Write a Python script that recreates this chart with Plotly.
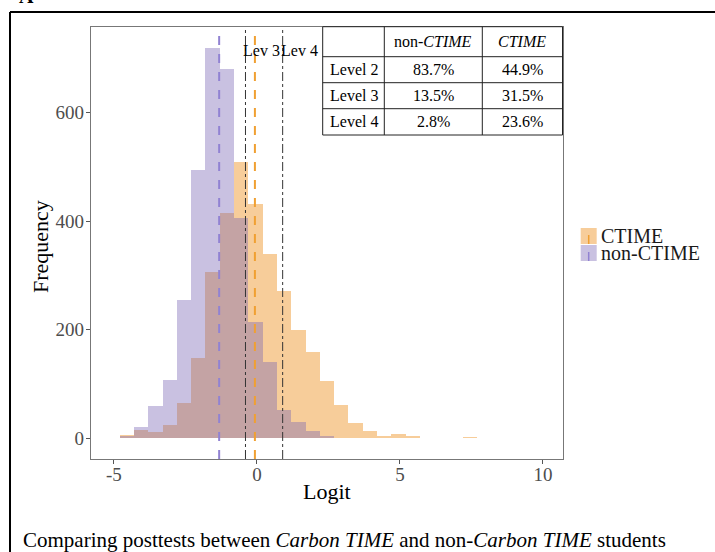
import plotly.graph_objects as go

# ---------------- data ----------------
bin_centers = [-4.55, -4.05, -3.55, -3.05, -2.55, -2.05, -1.55, -1.05, -0.55, -0.05,
               0.45, 0.95, 1.45, 1.95, 2.45, 2.95, 3.45, 3.95, 4.45, 4.95,
               5.45, 5.95, 6.45, 6.95, 7.45, 7.95, 8.45]
bin_width = 0.5
ctime_counts = [7, 15, 12, 24, 66, 149, 306, 415, 510, 431,
                340, 272, 200, 160, 105, 62, 28, 13, 5, 8,
                4, 1, 0, 0, 3, 0, 1]
non_ctime_counts = [4, 21, 59, 107, 255, 494, 720, 680, 406, 214,
                    140, 53, 30, 14, 4, 1, 0, 0, 0, 0,
                    0, 0, 0, 0, 0, 0, 0]
series_names = ["CTIME", "non-CTIME"]
ctime_mean = -0.07
non_ctime_mean = -1.32
level_names = ["Lev 3", "Lev 4"]
level_cuts = [-0.40, 0.90]

x_ticks = [-5, 0, 5, 10]
x_tick_labels = ["-5", "0", "5", "10"]
y_ticks = [0, 200, 400, 600]
y_tick_labels = ["0", "200", "400", "600"]

table_header = ["", "non-<i>CTIME</i>", "<i>CTIME</i>"]
table_rows = ["Level 2", "Level 3", "Level 4"]
table_non_ctime = ["83.7%", "13.5%", "2.8%"]
table_ctime = ["44.9%", "31.5%", "23.6%"]

caption = "Comparing posttests between <i>Carbon TIME</i> and non-<i>Carbon TIME</i> students"

# ---------------- style ----------------
FONT = "Liberation Serif"
W, H = 715, 552
L, R, T, B = 91, 152, 27, 93
PW, PH = W - L - R, H - T - B

def px(x):
    return (x - L) / PW

def py(y):
    return 1 - (y - T) / PH

orange_fill = "rgba(235,135,15,0.42)"
purple_fill = "rgba(120,100,180,0.40)"
orange_line = "rgb(240,160,50)"
purple_line = "rgb(145,130,210)"

fig = go.Figure()
fig.add_trace(go.Bar(x=bin_centers, y=ctime_counts, width=bin_width, name=series_names[0],
                     marker=dict(color=orange_fill, line=dict(width=0)), showlegend=False))
fig.add_trace(go.Bar(x=bin_centers, y=non_ctime_counts, width=bin_width, name=series_names[1],
                     marker=dict(color=purple_fill, line=dict(width=0)), showlegend=False))

shapes = []
shapes.append(dict(type="line", xref="x", yref="paper", x0=non_ctime_mean, x1=non_ctime_mean,
                   y0=0, y1=1, line=dict(color=purple_line, width=2, dash="dash")))
shapes.append(dict(type="line", xref="x", yref="paper", x0=ctime_mean, x1=ctime_mean,
                   y0=0, y1=1, line=dict(color=orange_line, width=2, dash="dash")))
for c in level_cuts:
    shapes.append(dict(type="line", xref="x", yref="paper", x0=c, x1=c, y0=0, y1=1,
                       line=dict(color="#333333", width=1, dash="dashdot")))

annotations = []
for name, c in zip(level_names, level_cuts):
    annotations.append(dict(x=c, y=715, xref="x", yref="y", text=name, showarrow=False,
                            xanchor="left", yanchor="middle", xshift=-4,
                            font=dict(family=FONT, size=16, color="black")))

# table
tx = [322.7, 384.3, 482.3, 562.5]
ty = [26.7, 56.7, 82.7, 108.7, 135.0]
shapes.append(dict(type="rect", xref="paper", yref="paper", x0=px(tx[0]), x1=px(tx[-1]),
                   y0=py(ty[-1]), y1=py(ty[0]), fillcolor="white", line=dict(width=0), layer="above"))
for xv in tx:
    shapes.append(dict(type="line", xref="paper", yref="paper", x0=px(xv), x1=px(xv),
                       y0=py(ty[0]), y1=py(ty[-1]), line=dict(color="#222222", width=1), layer="above"))
for yv in ty:
    shapes.append(dict(type="line", xref="paper", yref="paper", x0=px(tx[0]), x1=px(tx[-1]),
                       y0=py(yv), y1=py(yv), line=dict(color="#222222", width=1), layer="above"))
cell_cx = [(tx[i] + tx[i + 1]) / 2 for i in range(3)]
cell_cy = [(ty[i] + ty[i + 1]) / 2 for i in range(4)]
tfont = dict(family=FONT, size=16, color="black")
for j, h in enumerate(table_header):
    if h:
        annotations.append(dict(x=px(cell_cx[j]), y=py(cell_cy[0]), xref="paper", yref="paper",
                                text=h, showarrow=False, xanchor="center", yanchor="middle", font=tfont))
for i, (rn, a, b) in enumerate(zip(table_rows, table_non_ctime, table_ctime)):
    for j, t in enumerate([rn, a, b]):
        annotations.append(dict(x=px(cell_cx[j]), y=py(cell_cy[i + 1]), xref="paper", yref="paper",
                                text=t, showarrow=False, xanchor="center", yanchor="middle", font=tfont))

# custom legend
leg_fills = [orange_fill, purple_fill]
leg_lines = [orange_line, purple_line]
leg_y = [(228, 244), (245, 261)]
for name, f, lc, (y0, y1) in zip(series_names, leg_fills, leg_lines, leg_y):
    shapes.append(dict(type="rect", xref="paper", yref="paper", x0=px(580.7), x1=px(596.7),
                       y0=py(y1), y1=py(y0), fillcolor=f, line=dict(width=0)))
    shapes.append(dict(type="line", xref="paper", yref="paper", x0=px(588.7), x1=px(588.7),
                       y0=py(y1), y1=py(y0), line=dict(color=lc, width=1.5, dash="dash")))
    annotations.append(dict(x=px(599), y=py((y0 + y1) / 2), xref="paper", yref="paper", text=name,
                            showarrow=False, xanchor="left", yanchor="middle",
                            font=dict(family=FONT, size=20, color="#1a1a1a")))

# axis titles
annotations.append(dict(x=0.5, y=py(491), xref="paper", yref="paper", text="Logit", showarrow=False,
                        xanchor="center", yanchor="middle", font=dict(family=FONT, size=22, color="black")))
annotations.append(dict(x=px(40), y=py(247), xref="paper", yref="paper", text="Frequency", showarrow=False,
                        textangle=-90, xanchor="center", yanchor="middle",
                        font=dict(family=FONT, size=22, color="black")))
# caption
annotations.append(dict(x=px(21), y=py(540), xref="paper", yref="paper", text=caption, showarrow=False,
                        xanchor="left", yanchor="middle", font=dict(family=FONT, size=21, color="black")))
# panel letter (cut off at top)
annotations.append(dict(x=px(26), y=py(9), xref="paper", yref="paper", text="<b>A</b>", showarrow=False,
                        xanchor="center", yanchor="bottom", font=dict(family=FONT, size=20, color="black")))

# outer frame
shapes.append(dict(type="line", xref="paper", yref="paper", x0=px(10), x1=px(716), y0=py(12), y1=py(12),
                   line=dict(color="black", width=2)))
shapes.append(dict(type="line", xref="paper", yref="paper", x0=px(10), x1=px(10), y0=py(12), y1=py(553),
                   line=dict(color="black", width=2)))

tick_font = dict(family=FONT, size=19, color="#4d4d4d")
fig.update_layout(
    width=W, height=H,
    margin=dict(l=L, r=R, t=T, b=B, pad=0),
    paper_bgcolor="white", plot_bgcolor="white",
    barmode="overlay", bargap=0,
    shapes=shapes, annotations=annotations,
    showlegend=False,
    xaxis=dict(range=[-5.80, 10.70], tickvals=x_ticks, ticktext=x_tick_labels,
               showgrid=False, zeroline=False, showline=True, mirror=True,
               linecolor="#777777", linewidth=1.3, ticks="outside", ticklen=4, tickcolor="#555555",
               ticklabelstandoff=-6, tickfont=tick_font),
    yaxis=dict(range=[-38, 758], tickvals=y_ticks, ticktext=y_tick_labels,
               showgrid=False, zeroline=False, showline=True, mirror=True,
               linecolor="#777777", linewidth=1.3, ticks="outside", ticklen=4, tickcolor="#555555",
               ticklabelstandoff=-2, tickfont=tick_font),
)

fig.write_html("out.html", config={"displayModeBar": False},
               post_script="document.body.style.margin='0px';document.body.style.overflow='hidden';")
